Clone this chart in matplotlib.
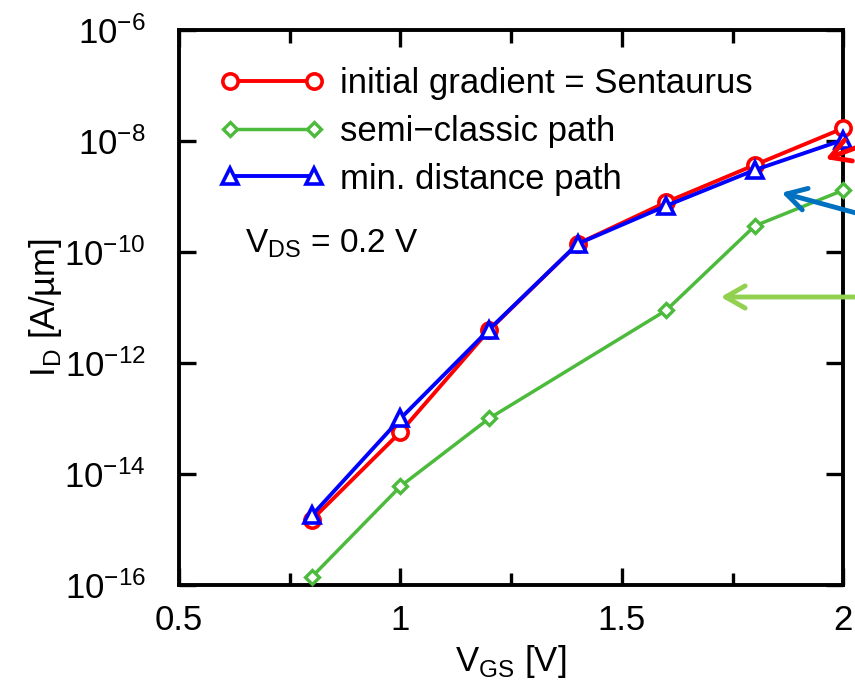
import numpy as np
import matplotlib
matplotlib.use("Agg")
import matplotlib.pyplot as plt
from matplotlib.patches import FancyArrowPatch
from matplotlib.ticker import FixedLocator, LogFormatterMathtext

plt.rcParams['font.family'] = ['Liberation Sans', 'DejaVu Sans']
plt.rcParams['mathtext.fontset'] = 'custom'
plt.rcParams['mathtext.rm'] = 'Liberation Sans'

# V_GS sweep points
vgs = [0.8, 1.0, 1.2, 1.4, 1.6, 1.8, 2.0]
id_sentaurus = [1.5e-15, 5.7e-14, 3.9e-12, 1.4e-10, 7.9e-10, 3.7e-9, 1.7e-8]
id_mindist = [1.8e-15, 1.0e-13, 4.0e-12, 1.4e-10, 6.8e-10, 3.0e-9, 1.05e-8]
vgs_semi = [0.8, 1.0, 1.2, 1.6, 1.8, 2.0]
id_semi = [1.4e-16, 6.0e-15, 1.0e-13, 8.9e-12, 2.95e-10, 1.3e-9]

labels = ["initial gradient = Sentaurus", "semi\u2212classic path", "min. distance path"]

fig = plt.figure(figsize=(8.55, 6.89), dpi=100)
ax = fig.add_axes([0.2094, 0.151, 0.777, 0.8055])

ax.plot(vgs, id_sentaurus, '-o', color='#ff0000', lw=2.8, ms=11, mew=2.6,
        mfc='white', label=labels[0], clip_on=False, zorder=3)
ax.plot(vgs_semi, id_semi, '-D', color='#4cbb3c', lw=2.5, ms=7.5, mew=2.4,
        mfc='white', label=labels[1], clip_on=False, zorder=3)
ax.plot(vgs, id_mindist, '-^', color='#0000ff', lw=2.8, ms=12, mew=2.6,
        mfc='white', label=labels[2], clip_on=False, zorder=4)

ax.set_yscale('log')
ax.set_xlim(0.5, 2.0)
ax.set_ylim(1e-16, 1e-6)
ax.set_xticks([0.5, 1.0, 1.5, 2.0])
ax.set_xticklabels(['0.5', '1', '1.5', '2'])
ax.set_xticks([0.75, 1.25, 1.75], minor=True)
ax.yaxis.set_major_locator(FixedLocator([1e-16, 1e-14, 1e-12, 1e-10, 1e-8, 1e-6]))
ax.yaxis.set_minor_locator(FixedLocator([]))
ax.yaxis.set_major_formatter(LogFormatterMathtext())

ax.tick_params(which='both', direction='in', top=True, right=True,
               labelsize=25, width=2.4)
ax.tick_params(axis='x', pad=14)
ax.tick_params(axis='y', pad=24)
ax.tick_params(which='major', length=12)
ax.tick_params(which='minor', length=9)
for sp in ax.spines.values():
    sp.set_linewidth(2.8)

ax.set_xlabel('V$_{\\mathregular{GS}}$ [V]', fontsize=25, labelpad=4)
ax.set_ylabel('I$_{\\mathregular{D}}$ [A/\u00b5m]', fontsize=25, labelpad=0)

ax.text(0.65, 1.4e-10, 'V$_{\\mathregular{DS}}$ = 0.2 V', fontsize=24, va='center')

leg = ax.legend(loc='upper left', bbox_to_anchor=(0.03, 0.97), numpoints=2,
                frameon=False, fontsize=25, handlelength=3.0, handletextpad=0.45,
                labelspacing=0.42, borderaxespad=0.2)

# coloured call-out arrows coming in from the right edge
arrows = [((890, 135), (823, 160), '#ff0000'),
          ((900, 225), (779, 192), '#0070c0'),
          ((900, 297), (718, 297), '#92d050')]
H = 689
for (x0, y0), (x1, y1), c in arrows:
    a = FancyArrowPatch((x0 / 855, 1 - y0 / H), (x1 / 855, 1 - y1 / H),
                        transform=fig.transFigure, arrowstyle='->,head_length=14,head_width=8',
                        color=c, lw=3.5, mutation_scale=1, clip_on=False, zorder=6)
    fig.add_artist(a)

fig.savefig('out.png', dpi=100)
